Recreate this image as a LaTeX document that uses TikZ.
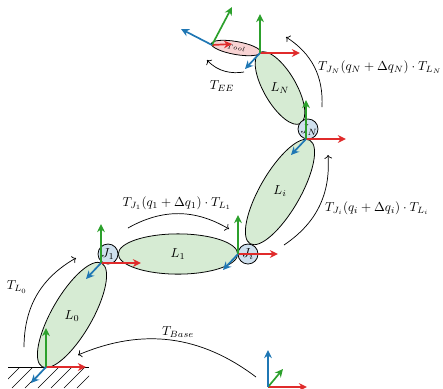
\documentclass[tikz,border=0pt]{standalone}
\usepackage{amsmath}
\usepackage{xcolor}
\usetikzlibrary{arrows.meta,shapes.geometric}
\definecolor{LinkGreen}{HTML}{D6EBD3}
\definecolor{JointBlue}{HTML}{CFE0EE}
\definecolor{ToolPink}{HTML}{F8D3D3}
\definecolor{AxisRed}{HTML}{E02B2B}
\definecolor{AxisGreen}{HTML}{2CA02C}
\definecolor{AxisBlue}{HTML}{1F77B4}

\begin{document}
\begin{tikzpicture}[x=0.77pt,y=-0.77pt,
link/.style={ellipse, draw=black, fill=LinkGreen, line width=0.6pt, inner sep=0pt, minimum width=92pt, minimum height=31pt},
joint/.style={circle, draw=black, fill=JointBlue, line width=0.6pt, inner sep=0pt, minimum size=15.4pt},
axis/.style={-{Stealth[length=2.2mm,width=2.1mm]}, line width=1.3pt},
motion/.style={->, line width=0.55pt},
label/.style={inner sep=0pt}]
\useasboundingbox (0,0) rectangle (443,388);
% ground
\coordinate (gl) at (8,367);
\coordinate (gr) at (89,367);
\begin{scope}
\clip (8,367) rectangle (89,388);
\foreach \x in {20,33,...,124}{\draw[line width=0.5pt] (\x,367)--(\x-21,388);}
\end{scope}
\draw[line width=0.7pt] (gl)--(gr);
% links and joints
\node[link,rotate=60] (l0) at (72,315) {};
\node[link] (l1) at (178,254) {};
\node[link,rotate=60] (li) at (280,192) {};
\node[link,rotate=-60,minimum width=63pt,minimum height=25pt] (ln) at (280,88) {};
\node[joint] (j1) at (108,254) {};
\node[joint] (ji) at (248,254) {};
\node[joint] (jn) at (308,129) {};
\node[link,rotate=-10,fill=ToolPink,minimum width=38.5pt,minimum height=10pt] (tl) at (236,48) {\tiny$Tool$};
\node[label] (l0t) at (72,316) {$L_0$};
\node[label] (l1t) at (178,254) {$L_1$};
\node[label] (lit) at (280,191) {$L_i$};
\node[label] (lnt) at (280,88) {$L_N$};
\node[label] (j1t) at (108,254) {$J_1$};
\node[label] (jit) at (248,254) {$J_i$};
\node[label] (jnt) at (309,130) {$J_N$};
% frames
\foreach \n/\x/\y in {f0/46/367,f1/101/263,fi/238/254,fn/306/139,fe/260/53}{
\coordinate (\n) at (\x,\y);
\coordinate (\n r) at (\x+40,\y);
\coordinate (\n g) at (\x,\y-39);
\coordinate (\n b) at (\x-15,\y+16);
\draw[axis,AxisRed] (\n)--(\n r);
\draw[axis,AxisGreen] (\n)--(\n g);
\draw[axis,AxisBlue] (\n)--(\n b);
}
\coordinate (ft) at (212,45);
\coordinate (ftr) at (232,44);
\coordinate (ftg) at (232,7);
\coordinate (ftb) at (181,29);
\draw[axis,AxisRed] (ft)--(ftr);
\draw[axis,AxisGreen] (ft)--(ftg);
\draw[axis,AxisBlue] (ft)--(ftb);
\coordinate (fw) at (268,387);
\coordinate (fwr) at (307,387);
\coordinate (fwg) at (283,369);
\coordinate (fwb) at (268,350);
\draw[axis,AxisRed] (fw)--(fwr);
\draw[axis,AxisGreen] (fw)--(fwg);
\draw[axis,AxisBlue] (fw)--(fwb);
% transforms
\coordinate (a0) at (24,347);
\coordinate (a1) at (76,258);
\coordinate (b0) at (128,228);
\coordinate (b1) at (229,229);
\coordinate (c0) at (284,245);
\coordinate (c1) at (328,155);
\coordinate (d0) at (322,107);
\coordinate (d1) at (286,37);
\coordinate (e0) at (244,72);
\coordinate (e1) at (207,60);
\coordinate (w0) at (256,377);
\coordinate (w1) at (78,355);
\draw[motion] (a0) to[bend left=30] (a1);
\draw[motion] (b0) to[bend left=30] (b1);
\draw[motion] (c0) to[bend right=30] (c1);
\draw[motion] (d0) to[bend right=30] (d1);
\draw[motion] (e0) .. controls (232,74) and (218,72) .. (e1);
\draw[motion] (w0) to[bend right=30] (w1);
\node[label] (tl0) at (17,287) {$T_{L_0}$};
\node[label] (tb) at (178,332) {$T_{Base}$};
\node[label] (tj1) at (177,203) {$T_{J_1}(q_1+\Delta q_1)\cdot T_{L_1}$};
\node[label] (tji) at (377,208) {$T_{J_i}(q_i+\Delta q_i)\cdot T_{L_i}$};
\node[label] (tjn) at (380,67) {$T_{J_N}(q_N+\Delta q_N)\cdot T_{L_N}$};
\node[label] (tee) at (222,86) {$T_{EE}$};
\end{tikzpicture}
\end{document}
